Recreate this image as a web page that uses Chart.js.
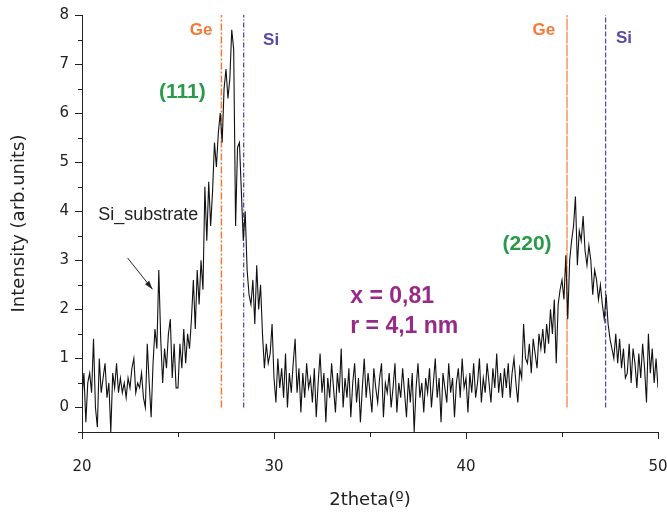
<!DOCTYPE html>
<html>
<head>
<meta charset="utf-8">
<script src="https://cdn.jsdelivr.net/npm/chart.js@4.4.1/dist/chart.umd.min.js"></script>
<style>
  html, body { margin: 0; padding: 0; background: #fff; }
  #wrap { width: 667px; height: 519px; }
</style>
</head>
<body>
<div id="wrap"><canvas id="xrd" width="667" height="519"></canvas></div>
<script>
// 2theta grid: 20.0 .. 50.0, step 0.1
var thetaStart = 20, thetaStep = 0.1;

// intensity, one row per degree (x.0 .. x.9)
var intensity = [
  0.2, 0.7, -0.3, 0.5, 0.7, 0.3, 1.4, 0.0, -0.4, 1.0,   // 20
  0.3, 0.6, 0.9, 0.2, 0.5, -0.5, 0.7, 0.4, 0.9, 0.3,    // 21
  0.6, 0.3, 0.5, 0.2, 0.6, 0.4, 0.8, 1.0, 0.3, 0.5,     // 22
  0.4, 0.7, 0.2, 0.0, 1.3, 0.5, -0.2, 0.9, 1.6, 1.2,    // 23
  2.8, 1.4, 0.5, 1.2, 0.8, 1.5, 1.8, 0.6, 1.3, 0.4,     // 24
  0.4, 1.3, 0.8, 1.6, 0.9, 1.5, 1.2, 1.8, 2.6, 1.6,     // 25
  2.8, 2.1, 3.0, 2.4, 4.5, 3.4, 4.6, 3.7, 4.4, 5.4,     // 26
  4.9, 5.6, 6.0, 5.4, 6.5, 6.9, 6.3, 6.7, 7.7, 7.3,     // 27
  3.7, 5.3, 5.4, 4.4, 3.4, 4.0, 2.8, 2.3, 2.1, 2.6,     // 28
  1.7, 2.9, 2.0, 2.5, 1.5, 0.8, 1.3, 0.9, 1.1, 1.7,     // 29
  0.6, 0.1, 1.0, 0.4, 0.8, 0.2, 1.1, 0.0, 0.7, 0.3,     // 30
  0.9, 1.4, 0.3, 0.8, -0.1, 0.7, 0.2, 0.9, 0.4, 0.6,    // 31
  0.1, 0.8, -0.2, 0.5, 1.1, 0.3, 0.7, -0.3, 0.6, 0.2,   // 32
  0.9, 0.4, -0.1, 0.7, 0.3, 1.2, 0.0, 0.6, 0.2, 0.8,    // 33
  -0.2, 0.5, 0.9, 0.1, 0.6, -0.3, 0.4, 1.0, 0.2, 0.7,   // 34
  0.3, -0.1, 0.8, 0.4, 0.1, 0.6, 0.9, -0.2, 0.5, 0.3,   // 35
  0.7, 0.0, 0.4, 0.9, -0.1, 0.5, 0.2, 0.8, 0.3, -0.2,   // 36
  0.6, 0.1, 0.7, -0.5, 0.4, 0.9, 0.2, 0.5, -0.1, 0.6,   // 37
  0.3, 0.8, 0.0, 0.5, 1.0, 0.2, 0.6, -0.3, 0.7, 0.4,    // 38
  0.1, 0.9, 0.3, 0.6, -0.2, 0.5, 0.8, 0.2, 1.0, 0.4,    // 39
  0.6, -0.1, 0.7, 0.3, 0.9, 0.2, 0.5, 1.0, 0.1, 0.6,    // 40
  0.3, 0.9, 0.5, 0.1, 0.8, 0.4, 1.1, 0.3, 0.7, 0.2,     // 41
  0.8, 0.4, 0.9, 0.2, 0.7, 1.0, 0.5, 0.1, 0.8, 0.6,     // 42
  1.7, 1.0, 0.9, 1.3, 0.7, 1.4, 1.1, 0.8, 1.5, 1.2,     // 43
  1.6, 1.1, 1.7, 1.3, 2.0, 1.5, 2.2, 0.9, 2.1, 2.4,     // 44
  2.6, 2.2, 3.1, 1.8, 3.0, 3.4, 3.7, 4.3, 2.9, 3.6,     // 45
  3.4, 3.9, 3.2, 2.9, 3.3, 3.0, 2.3, 2.8, 2.6, 2.2,     // 46
  2.5, 2.1, 1.8, 2.3, 1.7, 1.4, 1.2, 1.0, 1.5, 0.9,     // 47
  1.4, 0.8, 1.2, 0.6, 0.7, 1.3, 0.5, 1.2, 0.9, 0.4,     // 48
  1.1, 0.6, 1.3, 0.8, 0.1, 1.5, 0.7, 1.2, 0.5, 1.0,     // 49
  0.4                                                   // 50
];

// reference peak positions (2theta)
var refLabels = ["Ge", "Si", "Ge", "Si"];
var refPositions = [27.26, 28.42, 45.26, 47.27];

var xTicks = [20, 30, 40, 50];
var xMinor = [25, 35, 45];

var scan = intensity.map(function (v, i) {
  return { x: +(thetaStart + i * thetaStep).toFixed(2), y: v };
});

var ORANGE = "#f47a36", PURPLE = "#5a49a6";
var refStyles = [
  { color: ORANGE, dash: [7, 2, 2, 2], width: 1.5 },
  { color: PURPLE, dash: [5, 2, 1, 2], width: 1.3 },
  { color: ORANGE, dash: [12, 1], width: 1.2 },
  { color: PURPLE, dash: [5, 2], width: 1.3 }
];

var datasets = [{
  label: "scan",
  data: scan,
  borderColor: "#111",
  borderWidth: 1.1,
  pointRadius: 0,
  tension: 0,
  order: 0
}];
refPositions.forEach(function (p, i) {
  datasets.push({
    label: refLabels[i],
    data: [{ x: p, y: 0 }, { x: p, y: 8 }],
    borderColor: refStyles[i].color,
    borderDash: refStyles[i].dash,
    borderWidth: refStyles[i].width,
    pointRadius: 0,
    order: 1
  });
});

var SANS = "'Liberation Sans', Arial, sans-serif";
var WIDE = "'DejaVu Sans', sans-serif";

// text notes and minor ticks
var notes = {
  id: "notes",
  afterDraw: function (chart) {
    var c = chart.ctx, xs = chart.scales.x, ys = chart.scales.y;
    var a = chart.chartArea;
    c.save();
    // minor ticks
    c.strokeStyle = "#222";
    c.lineWidth = 1;
    c.beginPath();
    xMinor.forEach(function (v) {
      var px = Math.round(xs.getPixelForValue(v)) + 0.5;
      c.moveTo(px, a.bottom); c.lineTo(px, a.bottom + 5);
    });
    for (var y = -0.5; y < 8; y += 1) {
      var py = Math.round(ys.getPixelForValue(y)) + 0.5;
      c.moveTo(a.left, py); c.lineTo(a.left - 4, py);
    }
    c.stroke();

    function txt(s, x, y, font, color, align) {
      c.font = font;
      c.fillStyle = color;
      c.textAlign = align || "center";
      c.textBaseline = "middle";
      c.fillText(s, xs.getPixelForValue(x), ys.getPixelForValue(y));
    }
    var bold17 = "bold 17px " + SANS;
    txt(refLabels[0], 26.2, 7.69, bold17, ORANGE);
    txt(refLabels[1], 29.85, 7.48, bold17, PURPLE);
    txt(refLabels[2], 44.06, 7.69, bold17, ORANGE);
    txt(refLabels[3], 48.23, 7.53, bold17, PURPLE);
    var bold21 = "bold 21px " + SANS;
    txt("(111)", 25.23, 6.42, bold21, "#2a9a4a");
    txt("(220)", 43.18, 3.33, bold21, "#2a9a4a");
    var bold23 = "bold 23px " + SANS;
    txt("x = 0,81", 33.97, 2.25, bold23, "#962a86", "left");
    txt("r = 4,1 nm", 33.97, 1.64, bold23, "#962a86", "left");
    txt("Si_substrate", 23.45, 3.93, "18px " + SANS, "#222");

    // arrow to substrate peak
    var x1 = xs.getPixelForValue(22.37), y1 = ys.getPixelForValue(3.05);
    var x2 = xs.getPixelForValue(23.67), y2 = ys.getPixelForValue(2.41);
    c.strokeStyle = "#222";
    c.fillStyle = "#222";
    c.beginPath(); c.moveTo(x1, y1); c.lineTo(x2, y2); c.stroke();
    var ang = Math.atan2(y2 - y1, x2 - x1);
    c.beginPath();
    c.moveTo(x2, y2);
    c.lineTo(x2 - 9 * Math.cos(ang - 0.3), y2 - 9 * Math.sin(ang - 0.3));
    c.lineTo(x2 - 9 * Math.cos(ang + 0.3), y2 - 9 * Math.sin(ang + 0.3));
    c.closePath(); c.fill();
    c.restore();
  }
};

var tickFont = { family: WIDE, size: 15 };
var titleFont = { family: WIDE, size: 18 };

new Chart(document.getElementById("xrd"), {
  type: "line",
  data: { datasets: datasets },
  options: {
    responsive: false,
    animation: false,
    layout: { padding: { top: 15, right: 9, left: 0, bottom: 0 } },
    plugins: { legend: { display: false }, tooltip: { enabled: false } },
    scales: {
      x: {
        type: "linear",
        min: 20, max: 50,
        afterBuildTicks: function (s) { s.ticks = xTicks.map(function (v) { return { value: v }; }); },
        afterFit: function (s) { s.height = 87; s.paddingLeft = 0; s.paddingRight = 0; },
        grid: { drawOnChartArea: false, drawTicks: true, tickLength: 7, tickColor: "#222" },
        border: { color: "#222", width: 1 },
        ticks: { color: "#222", font: tickFont, padding: 19, maxRotation: 0 },
        title: { display: true, text: "2theta(º)", color: "#222", font: titleFont, padding: { top: 8, bottom: 8 } }
      },
      y: {
        min: -0.5, max: 8,
        afterFit: function (s) { s.width = 82; s.paddingTop = 0; s.paddingBottom = 0; },
        ticks: { stepSize: 1, includeBounds: false, color: "#222", font: tickFont, padding: 6 },
        grid: { drawOnChartArea: false, drawTicks: true, tickLength: 7, tickColor: "#222" },
        border: { color: "#222", width: 1 },
        title: { display: true, text: "Intensity (arb.units)", color: "#222", font: titleFont, padding: { top: 9, bottom: 4 } }
      }
    }
  },
  plugins: [notes]
});
</script>
</body>
</html>
